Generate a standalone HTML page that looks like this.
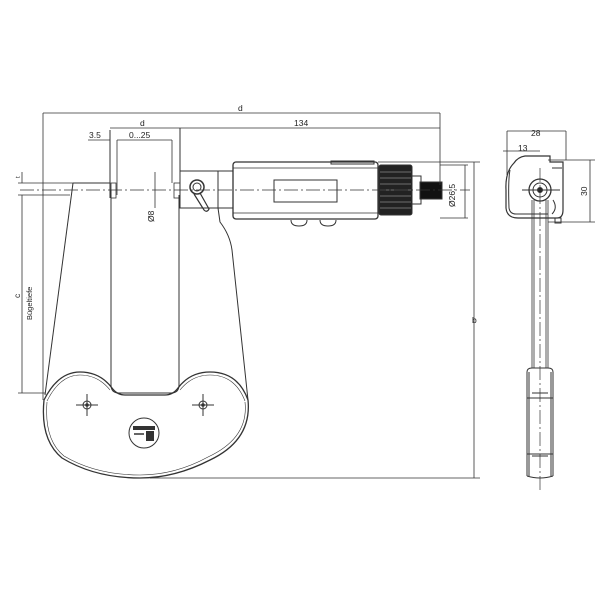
<!DOCTYPE html>
<html><head><meta charset="utf-8"><style>body{margin:0;background:#fff}svg{display:block}</style></head><body>
<svg width="600" height="600" viewBox="0 0 600 600" xmlns="http://www.w3.org/2000/svg" font-family="Liberation Sans, sans-serif" fill="none" stroke="#333" stroke-width="1">
<rect width="600" height="600" fill="#fff" stroke="none"/>
<!-- frame -->
<path d="M73 183 L45 395" stroke-width="1"/>
<path d="M218 208 L220 222 Q230 235 232 250 L248 400" stroke-width="1"/>
<path d="M111 190 L111 385 Q111 393 119 393 L171 393 Q179 393 179 385 L179 195" stroke-width="1"/>
<path d="M44 400 Q58 372 80 372 Q100 372 112 388 Q117 395 125 395 L165 395 Q173 395 178 388 Q190 372 210 372 Q238 372 248 400 Q252 440 210 460 Q175 478 140 478 Q95 478 62 458 Q40 440 44 400 Z" stroke-width="1.3"/>
<path d="M47 401 Q60 375 80 375 Q98 375 110 390 M180 390 Q192 375 210 375 Q235 375 245 401 M47 402 Q44 440 64 456 Q96 475 140 475 Q175 475 208 457 Q249 438 245 402" stroke-width="0.6"/>
<g stroke-width="1"><circle cx="87" cy="405" r="4"/><circle cx="87" cy="405" r="1.3" fill="#222"/><path d="M76 405h22M87 394v22"/>
<circle cx="203" cy="405" r="4"/><circle cx="203" cy="405" r="1.3" fill="#222"/><path d="M192 405h22M203 394v22"/></g>
<circle cx="144" cy="433" r="15"/>
<rect x="133" y="426" width="22" height="4" fill="#333" stroke="none"/>
<rect x="146" y="431" width="8" height="10" fill="#333" stroke="none"/>
<path d="M134 434h10" stroke-width="1.5"/>
<!-- anvil/spindle -->
<path d="M73 183 L110 183 M110 130 V198"/>
<rect x="111" y="183" width="5" height="15" stroke-width="0.8"/>
<rect x="174" y="183" width="6" height="15" stroke-width="0.8"/>
<path d="M180 128 V171"/>
<!-- head -->
<path d="M180 171 H233 V208 H180 Z M218 171 V208"/>
<circle cx="197" cy="187" r="7" stroke-width="1.5"/><circle cx="197" cy="187" r="4"/>
<path d="M194 194 L204 210 Q207 213 209 209 L200 193" stroke-width="1.2"/>
<!-- barrel -->
<rect x="233" y="162" width="145" height="57" rx="3" stroke-width="1.3"/>
<path d="M233 168H378M233 213H378" stroke-width="0.7"/>
<rect x="274" y="180" width="63" height="22"/>
<rect x="331" y="161" width="43" height="3"/>
<path d="M291 220 q0 6 8 6 q8 0 8 -6 M320 220 q0 6 8 6 q8 0 8 -6"/>
<rect x="379" y="165" width="33" height="50" rx="2" fill="#222"/>
<path d="M380 172h31M380 178h31M380 184h31M380 190h31M380 196h31M380 202h31M380 208h31" stroke="#888" stroke-width="0.8"/>
<rect x="412" y="176" width="9" height="28"/>
<rect x="420" y="182" width="22" height="17" fill="#111"/>
<!-- center lines -->
<path d="M20 190 H470" stroke-dasharray="14 3 2 3" stroke-width="0.7"/>
<path d="M540 168 V490" stroke-dasharray="14 3 2 3" stroke-width="0.7"/>
<!-- dimensions -->
<g stroke-width="0.8">
<path d="M43 113 H440 M43 113 V400 M440 113 V185"/>
<path d="M110 128 H440"/>
<path d="M88 140 H110 M117 140 H172 M117 140 V195 M172 140 V183"/>
<path d="M155 172 V208"/>
<path d="M18 183 H73 M18 195 H70 M22 172 V183 M22 195 V393 M18 393 H45"/>
<path d="M465 165 V218 M440 165 H468 M440 218 H468"/>
<path d="M474 162 V478 M150 478 H480 M378 162 H480"/>
</g>
<g font-size="8.5" fill="#222" stroke="none">
<text x="238" y="111">d</text>
<text x="140" y="126">d</text>
<text x="294" y="126">134</text>
<text x="89" y="138">3.5</text>
<text x="129" y="138">0...25</text>
<text transform="translate(455,207) rotate(-90)">Ø26.5</text>
<text transform="translate(154,222) rotate(-90)">Ø8</text>
<text transform="translate(20,178) rotate(-90)" font-size="6">t</text>
<text transform="translate(20,298) rotate(-90)">c</text>
<text transform="translate(32,320) rotate(-90)" font-size="7.5">Bügeltiefe</text>
<text x="472" y="323">b</text>
<text x="531" y="136">28</text>
<text x="518" y="151">13</text>
<text transform="translate(587,196) rotate(-90)">30</text>
</g>
<!-- side view -->
<g stroke-width="0.8">
<path d="M507 131 H566 M507 131 V175 M566 131 V160 M503 151 H540 M548 160 H595 M548 222 H595 M590 160 V222"/>
</g>
<path d="M514 163 Q505 172 506 190 L506 208 Q507 218 518 218 L557 218 Q563 218 563 210 L563 162 L550 162 L550 156 L525 156 Q518 157 514 163 Z" stroke-width="1.2"/>
<path d="M510 170 Q508 180 509 208 Q510 214 516 214 L548 214 M552 168 L562 168"/>
<circle cx="540" cy="190" r="11" stroke-width="1.3"/><circle cx="540" cy="190" r="7"/><circle cx="540" cy="190" r="2.5" fill="#222"/>
<path d="M522 190 H560"/>
<path d="M553 200 q5 8 -1 14"/>
<rect x="555" y="218" width="6" height="5"/>
<path d="M532 200 V368 M548 200 V368 M534 200 V368 M546 200 V368" stroke-width="0.8"/>
<path d="M527 372 Q527 368 532 368 L548 368 Q553 368 553 372 L553 476 M527 372 V476 M529 372 V476 M551 372 V476 M527 476 Q540 480 553 476" stroke-width="1"/>
<path d="M532 393 H548 M527 398 H553 M527 454 H553 M532 456 H548"/>
</svg>
</body></html>
